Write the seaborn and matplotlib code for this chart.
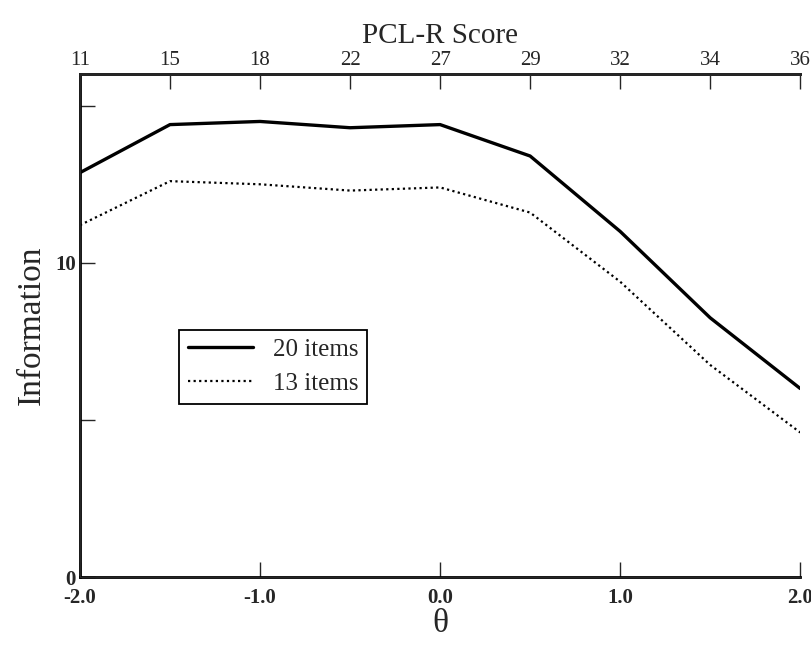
import matplotlib
matplotlib.use('Agg')
import matplotlib.pyplot as plt
import seaborn as sns
import pandas as pd

# values
theta = [-2.0, -1.5, -1.0, -0.5, 0.0, 0.5, 1.0, 1.5, 2.0]
pcl_scores = [11, 15, 18, 22, 27, 29, 32, 34, 36]
info_20 = [12.87, 14.4, 14.5, 14.3, 14.4, 13.4, 11.0, 8.25, 6.0]
info_13 = [11.2, 12.6, 12.5, 12.3, 12.4, 11.6, 9.4, 6.75, 4.6]

sns.set_style('ticks')
plt.rcParams['font.family'] = ['Liberation Serif', 'DejaVu Serif']

df = pd.DataFrame({'theta': theta + theta,
                   'info': info_20 + info_13,
                   'set': ['20 items'] * len(theta) + ['13 items'] * len(theta)})

fig = plt.figure(figsize=(8.12, 6.52), dpi=100)
ax = fig.add_axes([0.0985, 0.115, 0.887, 0.771])

sns.lineplot(data=df, x='theta', y='info', style='set', hue='set',
             palette=['black', 'black'], dashes={'20 items': '', '13 items': (1, 1.5)},
             size='set', sizes={'20 items': 2.4, '13 items': 1.6}, ax=ax)

ax.set_xlim(-2.0, 2.0)
ax.set_ylim(0, 16)
ax.set_xticks([-2, -1, 0, 1, 2])
ax.set_xticklabels(['-2.0', '-1.0', '0.0', '1.0', '2.0'], fontweight='bold', fontsize=15)
ax.set_yticks([0, 5, 10, 15])
ax.set_yticklabels(['0', '', '10', ''], fontweight='bold', fontsize=15)
ax.tick_params(axis='x', direction='in', length=11, width=1, pad=8)
ax.tick_params(axis='y', direction='in', length=11, width=1, pad=3)
ax.set_xlabel('θ', fontsize=24, labelpad=0)
ax.set_ylabel('Information', fontsize=24, labelpad=6)

for s in ['left', 'bottom', 'top']:
    ax.spines[s].set_linewidth(2)
    ax.spines[s].set_color('black')
ax.spines['right'].set_visible(False)

top = ax.twiny()
top.set_xlim(ax.get_xlim())
top.set_xticks(theta)
top.set_xticklabels([str(p) for p in pcl_scores], fontsize=15)
top.tick_params(direction='in', length=11, width=1, pad=3)
top.set_xlabel('PCL-R Score', fontsize=21, labelpad=6)
top.spines['right'].set_visible(False)
top.spines['top'].set_linewidth(2)

handles, labels = ax.get_legend_handles_labels()
leg = ax.legend(handles, labels, loc='lower left', bbox_to_anchor=(0.12, 0.32),
                fontsize=18, frameon=True, fancybox=False, edgecolor='black',
                framealpha=1, handlelength=2.6, borderpad=0.35, labelspacing=0.45,
                handletextpad=0.8)
leg.get_frame().set_linewidth(1.3)

fig.savefig('out.png', dpi=100)
